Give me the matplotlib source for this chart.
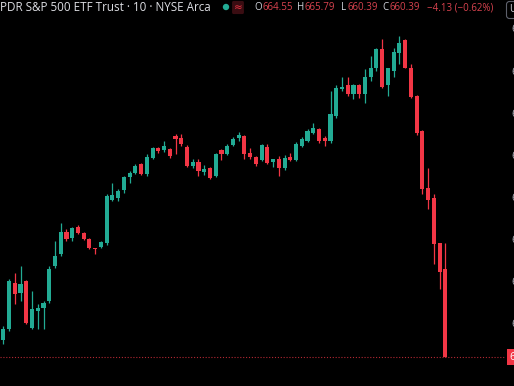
import matplotlib
matplotlib.use("Agg")
import matplotlib.pyplot as plt
import numpy as np

# ---- data (10-minute candles, SPY) ----
opens = [661.19, 661.71, 663.90, 663.43, 664.00, 661.76, 662.57, 662.71, 663.05, 664.71,
         665.28, 666.33, 666.05, 666.57, 666.29, 666.00, 665.57, 665.62, 665.81, 667.86,
         667.95, 668.33, 668.95, 669.14, 669.57, 669.10, 669.86, 670.33, 670.24, 670.29,
         670.90, 670.81, 670.38, 669.47, 669.67, 669.19, 669.38, 669.00, 670.24, 670.05,
         670.48, 670.81, 670.90, 670.10, 669.90, 669.76, 670.38, 669.67, 669.81, 669.38,
         669.90, 669.76, 670.43, 670.67, 671.05, 671.24, 670.81, 670.67, 671.86, 673.10,
         673.29, 672.90, 673.29, 672.90, 673.67, 674.10, 675.00, 673.29, 674.00, 674.81,
         675.43, 674.14, 672.81, 671.14, 668.43, 667.95, 665.81, 664.55]
highs = [661.86, 664.09, 664.38, 664.71, 664.05, 663.52, 662.90, 663.05, 664.71, 665.90,
         666.76, 666.48, 666.57, 666.67, 666.33, 666.05, 665.57, 665.90, 668.14, 668.67,
         668.38, 669.00, 669.24, 669.57, 669.62, 670.05, 670.38, 670.38, 670.67, 670.33,
         671.00, 671.00, 670.48, 669.81, 669.81, 669.52, 669.43, 670.10, 670.29, 670.52,
         670.86, 671.10, 670.95, 670.33, 669.95, 670.52, 670.52, 669.81, 669.95, 670.00,
         670.10, 670.62, 670.86, 671.24, 671.52, 671.29, 670.90, 673.05, 673.29, 673.67,
         673.67, 673.38, 673.38, 674.05, 674.71, 675.05, 675.48, 674.14, 675.05, 675.62,
         675.48, 674.33, 672.86, 671.19, 669.38, 668.14, 665.81, 665.79]
lows = [661.00, 661.62, 662.90, 663.05, 661.95, 661.71, 661.71, 661.71, 662.95, 664.62,
        665.19, 665.90, 665.90, 666.24, 665.95, 665.52, 665.28, 665.57, 665.71, 667.81,
        667.81, 668.19, 668.67, 669.10, 669.05, 669.00, 669.81, 670.10, 670.14, 669.86,
        670.05, 670.43, 669.43, 669.38, 669.00, 669.05, 668.86, 668.95, 669.76, 670.00,
        670.43, 670.67, 669.81, 669.81, 669.48, 669.71, 669.57, 669.43, 669.00, 669.29,
        669.71, 669.71, 670.38, 670.62, 671.00, 670.57, 670.43, 670.57, 671.76, 673.05,
        672.81, 672.67, 672.71, 672.48, 673.52, 674.00, 673.19, 672.81, 673.67, 674.33,
        674.10, 672.71, 670.95, 668.14, 667.43, 664.81, 663.62, 660.39]
closes = [661.71, 664.00, 663.38, 663.86, 662.00, 662.67, 662.71, 662.95, 664.57, 665.19,
          666.33, 666.00, 666.52, 666.29, 666.00, 665.57, 665.52, 665.86, 668.05, 668.10,
          668.29, 668.95, 669.14, 669.47, 669.10, 669.90, 670.33, 670.19, 670.43, 669.95,
          670.76, 670.52, 669.47, 669.67, 669.24, 669.33, 668.90, 670.05, 670.05, 670.43,
          670.76, 670.95, 670.05, 669.90, 669.57, 670.48, 669.62, 669.81, 669.38, 669.86,
          669.76, 670.52, 670.76, 671.14, 671.29, 670.67, 670.67, 671.95, 673.19, 673.24,
          672.90, 673.29, 672.90, 673.67, 674.14, 675.00, 673.24, 674.10, 674.90, 675.33,
          674.14, 672.76, 671.05, 668.38, 667.86, 665.76, 664.43, 660.39]

price_ticks = [662, 664, 666, 668, 670, 672, 674, 676]
last_price = 660.39
title_text = "PDR S&P 500 ETF Trust · 10 · NYSE Arca"
ohlc_labels = ["O", "H", "L", "C"]
ohlc_values = ["664.55", "665.79", "660.39", "660.39"]
change_text = "\u22124.13 (\u22120.62%)"

GREEN = "#22ab94"
RED = "#f23645"
BG = "#000000"

W, H = 514, 386
fig = plt.figure(figsize=(W / 100, H / 100), dpi=100, facecolor=BG)
ax = fig.add_axes([0, 0, 505 / W, 1])
ax.set_facecolor(BG)

x = np.arange(len(opens))
o = np.array(opens); h = np.array(highs); l = np.array(lows); c = np.array(closes)
up = c >= o
colors = np.where(up, GREEN, RED)

ax.vlines(x, l, h, colors=colors, linewidth=0.9, zorder=2)
bottoms = np.minimum(o, c)
heights = np.maximum(np.abs(c - o), 0.06)
ax.bar(x, heights, bottom=bottoms, width=0.72, color=colors, edgecolor="none", zorder=3)

ax.axhline(last_price, color=RED, linestyle=(0, (1, 1.6)), linewidth=0.8, alpha=0.75, zorder=1)

ax.set_xlim(-0.58, -0.58 + 505 / 5.74)
ax.set_ylim(677.35 - 386 / 21.05, 677.35)

for s in ax.spines.values():
    s.set_visible(False)
ax.xaxis.set_visible(False)
ax.yaxis.tick_right()
ax.set_yticks(price_ticks)
ax.set_yticklabels([f"{t:.2f}" for t in price_ticks])
ax.tick_params(axis="y", length=0, pad=4.5, labelsize=7.5, labelcolor="#b2b5be")
for t in ax.get_yticklabels():
    t.set_fontfamily("Open Sans")

# current price label
ax.annotate(f"{last_price:.2f}", xy=(1.0, last_price), xycoords=("axes fraction", "data"),
            xytext=(3, 0), textcoords="offset points", ha="left", va="center",
            fontsize=7.5, color="white", family="Open Sans",
            bbox=dict(boxstyle="square,pad=0.25", facecolor=RED, edgecolor="none"),
            annotation_clip=False, zorder=5)

# header
def fx(px):
    return px / W

def fy(py):
    return 1 - py / H

fig.text(fx(0), fy(7.5), title_text, color="#dcdde2", fontsize=8.4, family="Open Sans",
         ha="left", va="center")
fig.patches.append(matplotlib.patches.Circle((226, H - 7), 3.2, transform=None,
                                             facecolor=GREEN, edgecolor="none"))
fig.text(fx(238), fy(7.5), "\u2248", color="#f23645", fontsize=7.5, ha="center", va="center",
         family="DejaVu Sans",
         bbox=dict(boxstyle="round,pad=0.15", facecolor="#3a0d12", edgecolor="none"))

letter_x = [254.5, 296.5, 341, 382]
value_x = [262.5, 304.5, 347.5, 389.5]
for lx, vx, lab, val in zip(letter_x, value_x, ohlc_labels, ohlc_values):
    fig.text(fx(lx), fy(7.5), lab, color="#d1d4dc", fontsize=7.0, family="Open Sans",
             ha="left", va="center")
    fig.text(fx(vx), fy(7.5), val, color="#d9434f", fontsize=7.0, family="Open Sans",
             ha="left", va="center")
fig.text(fx(427), fy(7.5), change_text, color="#d9434f", fontsize=7.0, family="Open Sans",
         ha="left", va="center")

fig.text(fx(509.5), fy(10), "USD", color="#d1d4dc", fontsize=7.2, family="Open Sans",
         ha="left", va="center",
         bbox=dict(boxstyle="round,pad=0.3", facecolor=BG, edgecolor="#5d606b", linewidth=0.8))

fig.savefig("out.png", dpi=100, facecolor=BG)
